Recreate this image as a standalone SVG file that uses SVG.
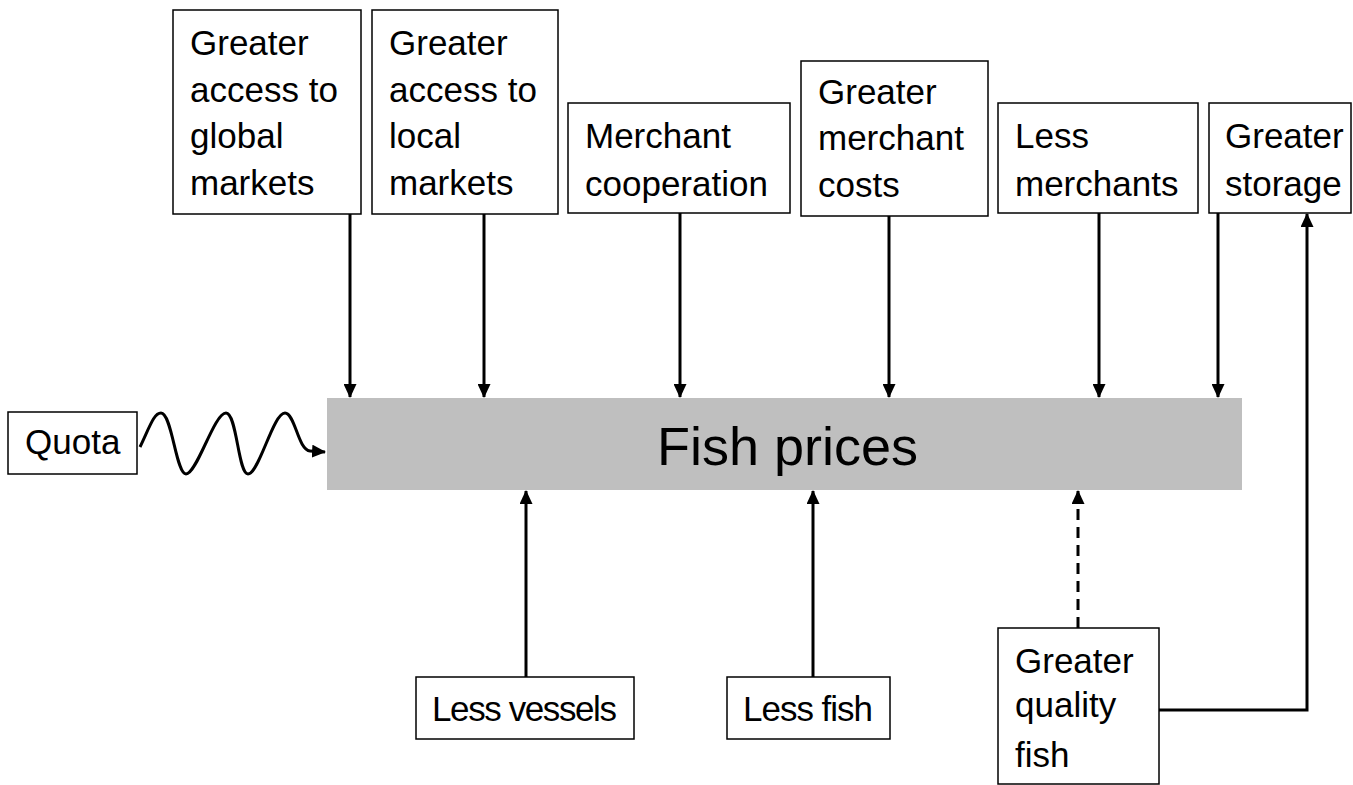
<svg xmlns="http://www.w3.org/2000/svg" width="1353" height="785" viewBox="0 0 1353 785">
  <style>
    .box { fill: #ffffff; stroke: #000000; stroke-width: 1.5; }
    .lbl { font-family: "Liberation Sans", Arial, sans-serif; font-size: 35px; fill: #000000; }
    .title { font-family: "Liberation Sans", Arial, sans-serif; font-size: 54px; fill: #000000; }
    .link { fill: none; stroke: #000000; stroke-width: 3; }
    .dash { stroke-dasharray: 11 7; }
  </style>
  <defs>
    <marker id="arrow" markerUnits="userSpaceOnUse" markerWidth="14" markerHeight="13" refX="13" refY="6.5" orient="auto">
      <path d="M0,0 L14,6.5 L0,13 z" fill="#000000"/>
    </marker>
  </defs>

  <rect width="1353" height="785" fill="#ffffff"/>

  <!-- central outcome bar -->
  <g id="fish-prices">
    <rect x="327" y="398" width="915" height="92" fill="#bfbfbf"/>
    <text class="title" x="657" y="465">Fish prices</text>
  </g>

  <!-- drivers above -->
  <g id="global-markets">
    <rect class="box" x="173" y="10" width="188" height="204"/>
    <text class="lbl" x="190" y="55">Greater</text>
    <text class="lbl" x="190" y="102">access to</text>
    <text class="lbl" x="190" y="148">global</text>
    <text class="lbl" x="190" y="195">markets</text>
  </g>
  <g id="local-markets">
    <rect class="box" x="372" y="10" width="186" height="204"/>
    <text class="lbl" x="389" y="55">Greater</text>
    <text class="lbl" x="389" y="102">access to</text>
    <text class="lbl" x="389" y="148">local</text>
    <text class="lbl" x="389" y="195">markets</text>
  </g>
  <g id="merchant-cooperation">
    <rect class="box" x="568" y="103" width="222" height="110"/>
    <text class="lbl" x="585" y="148">Merchant</text>
    <text class="lbl" x="585" y="196">cooperation</text>
  </g>
  <g id="merchant-costs">
    <rect class="box" x="801" y="61" width="187" height="155"/>
    <text class="lbl" x="818" y="104">Greater</text>
    <text class="lbl" x="818" y="150">merchant</text>
    <text class="lbl" x="818" y="197">costs</text>
  </g>
  <g id="less-merchants">
    <rect class="box" x="998" y="103" width="200" height="110"/>
    <text class="lbl" x="1015" y="148">Less</text>
    <text class="lbl" x="1015" y="196">merchants</text>
  </g>
  <g id="greater-storage">
    <rect class="box" x="1209" y="103" width="142" height="110"/>
    <text class="lbl" x="1225" y="148">Greater</text>
    <text class="lbl" x="1225" y="196">storage</text>
  </g>

  <!-- drivers left and below -->
  <g id="quota">
    <rect class="box" x="8" y="412" width="129" height="62"/>
    <text class="lbl" x="25" y="454">Quota</text>
  </g>
  <g id="less-vessels">
    <rect class="box" x="416" y="677" width="218" height="62"/>
    <text class="lbl" x="432" y="721" textLength="185">Less vessels</text>
  </g>
  <g id="less-fish">
    <rect class="box" x="727" y="677" width="163" height="62"/>
    <text class="lbl" x="743" y="721" textLength="130">Less fish</text>
  </g>
  <g id="quality-fish">
    <rect class="box" x="998" y="628" width="161" height="156"/>
    <text class="lbl" x="1015" y="673">Greater</text>
    <text class="lbl" x="1015" y="717">quality</text>
    <text class="lbl" x="1015" y="767">fish</text>
  </g>

  <!-- connectors -->
  <g id="connectors">
    <line class="link" x1="350" y1="214" x2="350" y2="397" marker-end="url(#arrow)"/>
    <line class="link" x1="484" y1="214" x2="484" y2="397" marker-end="url(#arrow)"/>
    <line class="link" x1="680" y1="213" x2="680" y2="397" marker-end="url(#arrow)"/>
    <line class="link" x1="889" y1="216" x2="889" y2="397" marker-end="url(#arrow)"/>
    <line class="link" x1="1099" y1="213" x2="1099" y2="397" marker-end="url(#arrow)"/>
    <line class="link" x1="1218" y1="213" x2="1218" y2="397" marker-end="url(#arrow)"/>
    <line class="link" x1="526" y1="677" x2="526" y2="491" marker-end="url(#arrow)"/>
    <line class="link" x1="813" y1="677" x2="813" y2="491" marker-end="url(#arrow)"/>
    <line class="link dash" x1="1078" y1="628" x2="1078" y2="491" marker-end="url(#arrow)"/>
    <polyline class="link" points="1159,710 1307,710 1307,214" marker-end="url(#arrow)"/>
    <path class="link" d="M140,447 C150,426 154,413 161,413 C172,413 176,474 186,474 C197,474 214,413 226,413 C237,413 238,474 248,474 C259,474 273,413 285,413 C295,413 298,450 310,451 L325,452" marker-end="url(#arrow)"/>
  </g>
</svg>
